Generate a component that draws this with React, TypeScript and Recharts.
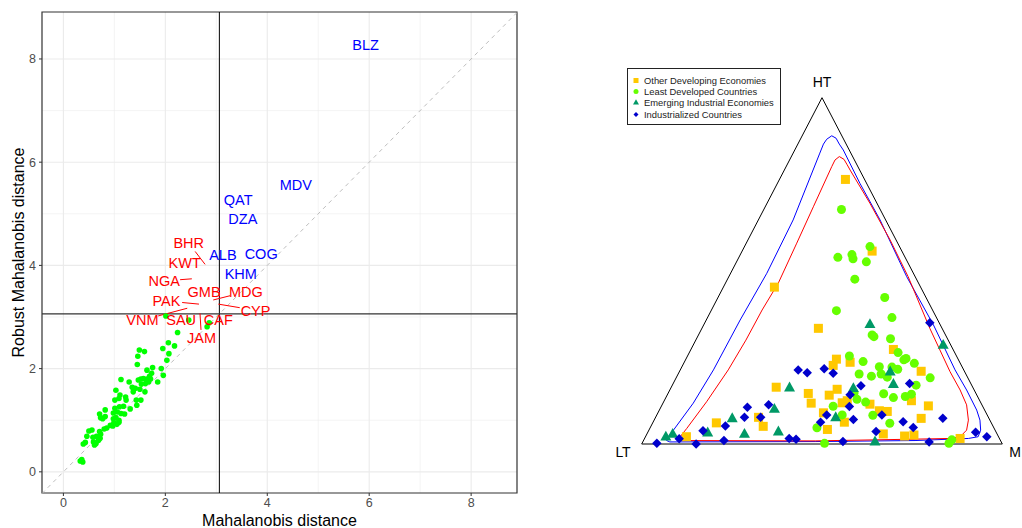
import React from "react";
import {
  ScatterChart,
  Scatter,
  XAxis,
  YAxis,
  CartesianGrid,
  ReferenceLine,
  ReferenceArea,
  Label,
} from "recharts";

const FONT = '"Liberation Sans", Arial, Helvetica, sans-serif';

// ---------- left panel: classical vs robust Mahalanobis distance ----------
const majorTicks = [0, 2, 4, 6, 8];
const minorTicks = [1, 3, 5, 7];
const X_DOMAIN: [number, number] = [-0.42, 8.9];
const Y_DOMAIN: [number, number] = [-0.41, 8.91];
const cutoff = 3.06;

const regular: [number, number][] = [
  [2.01, 3.02], [2.46, 2.94], [2.86, 2.89], [2.82, 2.81], [2.24, 2.7], [2.06, 2.5],
  [2.18, 2.44], [1.95, 2.39], [1.49, 2.36], [1.59, 2.33], [2.07, 2.29], [1.46, 2.24],
  [2.03, 2.16], [1.45, 2.08], [1.92, 2.0], [1.75, 2.02], [1.64, 1.97], [1.96, 1.87],
  [1.73, 1.91], [1.69, 1.85], [1.64, 1.8], [1.57, 1.81], [1.52, 1.8], [1.47, 1.78],
  [1.13, 1.79], [1.29, 1.74], [1.85, 1.74], [1.71, 1.8], [1.67, 1.74], [1.61, 1.71],
  [1.53, 1.7], [1.35, 1.64], [1.41, 1.62], [1.5, 1.6], [1.6, 1.55], [1.03, 1.58],
  [1.37, 1.55], [1.11, 1.49], [1.09, 1.42], [1.01, 1.39], [1.22, 1.45], [1.23, 1.39],
  [1.43, 1.39], [1.52, 1.39], [1.44, 1.29], [1.31, 1.22], [1.01, 1.23], [1.1, 1.26],
  [1.18, 1.27], [0.82, 1.2], [0.98, 1.14], [1.06, 1.16], [1.13, 1.13], [1.2, 1.12],
  [0.71, 1.12], [0.73, 1.05], [0.77, 1.03], [0.82, 1.07], [0.98, 1.03], [1.03, 1.05],
  [1.09, 1.0], [0.99, 0.95], [1.05, 0.92], [1.09, 0.96], [0.92, 0.9], [0.97, 0.89],
  [0.8, 0.83], [0.85, 0.85], [0.71, 0.78], [0.73, 0.73], [0.65, 0.69], [0.69, 0.61],
  [0.72, 0.65], [0.58, 0.67], [0.59, 0.58], [0.61, 0.52], [0.64, 0.55], [0.5, 0.79],
  [0.56, 0.81], [0.46, 0.69], [0.39, 0.54], [0.43, 0.57], [0.33, 0.21], [0.38, 0.19],
  [0.36, 0.24],
];

// outlying in both distances (label sits on the point)
const bothOutliers = [
  { name: "BLZ", x: 5.93, y: 8.27 },
  { name: "MDV", x: 4.56, y: 5.56 },
  { name: "QAT", x: 3.43, y: 5.28 },
  { name: "DZA", x: 3.52, y: 4.91 },
  { name: "ALB", x: 3.13, y: 4.2 },
  { name: "COG", x: 3.88, y: 4.23 },
  { name: "KHM", x: 3.48, y: 3.83 },
];

// outlying only in the robust distance (repelled labels: lx/ly label, x/y point)
const robustOutliers = [
  { name: "BHR", lx: 2.46, ly: 4.43, x: 2.78, y: 4.02 },
  { name: "KWT", lx: 2.38, ly: 4.06, x: 2.45, y: 4.04 },
  { name: "NGA", lx: 1.98, ly: 3.7, x: 2.52, y: 3.74 },
  { name: "GMB", lx: 2.76, ly: 3.49, x: 2.8, y: 3.45 },
  { name: "MDG", lx: 3.58, ly: 3.49, x: 2.94, y: 3.33 },
  { name: "PAK", lx: 2.02, ly: 3.31, x: 2.66, y: 3.25 },
  { name: "CYP", lx: 3.77, ly: 3.13, x: 3.04, y: 3.25 },
  { name: "VNM", lx: 1.55, ly: 2.94, x: 2.43, y: 3.17 },
  { name: "SAU", lx: 2.31, ly: 2.94, x: 2.35, y: 2.97 },
  { name: "CAF", lx: 3.04, ly: 2.94, x: 3.0, y: 2.97 },
  { name: "JAM", lx: 2.71, ly: 2.59, x: 2.68, y: 3.07 },
];

// segment from the edge of the label box to the point
function segStart(d: { name: string; lx: number; ly: number; x: number; y: number }) {
  const hw = d.name.length * 0.09 + 0.04;
  const hh = 0.16;
  const dx = d.x - d.lx;
  const dy = d.y - d.ly;
  const t = Math.min(dx ? hw / Math.abs(dx) : Infinity, dy ? hh / Math.abs(dy) : Infinity);
  if (t >= 1) return null;
  return { x: d.lx + dx * t, y: d.ly + dy * t };
}

const textShape = (color: string) => (p: any) => (
  <text x={p.cx} y={p.cy} dy="0.36em" textAnchor="middle" fill={color} fontSize={14.5}>
    {p.payload.name}
  </text>
);

// ---------- right panel: ternary diagram (LT, HT, M) ----------
const triangle = [
  { x: 0, y: 0 },
  { x: 50, y: 100 },
  { x: 100, y: 0 },
  { x: 0, y: 0 },
];
const vertexLabels = [
  { name: "HT", x: 50, y: 100 },
  { name: "LT", x: 0, y: 0 },
  { name: "M", x: 100, y: 0 },
];

const otherDeveloping: [number, number][] = [
  [56.5, 76.4], [63.9, 55.7], [36.8, 45.3], [49.0, 33.4], [69.8, 27.3], [54.0, 24.5],
  [53.1, 22.7], [57.8, 23.6], [77.5, 21.0], [37.3, 16.4], [46.2, 14.6], [52.0, 14.1],
  [54.2, 15.8], [47.0, 11.8], [55.6, 11.9], [57.0, 12.5], [63.3, 11.5], [74.8, 12.5],
  [79.5, 11.0], [50.4, 9.0], [65.9, 9.6], [68.1, 9.4], [77.5, 7.4], [56.2, 6.3],
  [20.7, 6.1], [32.4, 7.7], [33.7, 5.1], [51.5, 4.2], [67.0, 2.9], [72.9, 2.3],
  [75.5, 2.6], [12.4, 2.1], [88.3, 1.6],
];
const leastDeveloped: [number, number][] = [
  [55.4, 67.7], [63.3, 57.0], [54.4, 53.9], [58.3, 54.7], [58.6, 53.5], [62.3, 52.6],
  [59.1, 47.6], [67.4, 42.3], [54.0, 38.5], [69.4, 36.5], [63.9, 31.5], [64.4, 31.0],
  [69.0, 30.4], [71.1, 26.4], [57.6, 25.4], [61.4, 23.8], [72.7, 24.3], [73.3, 24.7],
  [75.6, 23.3], [65.9, 22.3], [69.4, 22.2], [71.0, 21.6], [60.3, 20.2], [63.7, 19.6],
  [66.4, 20.2], [68.1, 19.3], [80.0, 19.1], [76.1, 17.0], [67.1, 14.5], [69.8, 13.4],
  [73.1, 13.7], [74.8, 14.4], [59.7, 12.9], [62.1, 12.1], [53.1, 10.9], [55.6, 8.4],
  [64.1, 8.3], [68.8, 6.0], [48.6, 4.7], [50.7, 0.2], [85.2, 0.2], [86.0, 1.2],
  [58.9, 14.8],
];
const emergingIndustrial: [number, number][] = [
  [63.3, 34.6], [83.6, 28.6], [68.9, 20.9], [69.8, 17.3], [41.0, 16.3], [58.7, 16.1],
  [36.8, 10.1], [53.8, 7.7], [25.1, 7.4], [18.3, 3.3], [28.5, 2.9], [37.9, 3.6],
  [6.7, 2.1], [8.6, 2.9], [64.7, 0.7],
];
const industrialized: [number, number][] = [
  [79.9, 35.0], [43.4, 21.4], [45.9, 20.6], [50.6, 21.7], [53.1, 20.4], [60.8, 16.8],
  [74.3, 17.5], [57.8, 14.2], [57.6, 10.8], [29.3, 10.6], [35.2, 11.3], [28.5, 7.7],
  [33.0, 7.7], [51.3, 8.4], [49.6, 6.3], [58.7, 7.1], [66.6, 8.4], [72.5, 6.4],
  [75.3, 4.8], [83.5, 7.4], [23.2, 5.2], [17.0, 3.8], [10.4, 1.5], [4.2, 0.2],
  [15.1, 0.0], [22.8, 1.0], [40.9, 1.6], [42.8, 1.4], [55.8, 0.7], [65.0, 3.6],
  [79.7, 0.6], [92.6, 3.4], [95.7, 2.1],
];

// tolerance regions
const outerRegion: [number, number][] = [
  [7.8, 0.6], [6.9, 1.0], [7.1, 1.7], [8.8, 4.0], [14.3, 11.8], [19.9, 21.4],
  [27.3, 35.8], [34.7, 49.3], [42.0, 64.7], [49.4, 84.0], [50.4, 86.6], [51.3, 88.0],
  [52.7, 89.0], [53.9, 88.3], [54.8, 86.6], [55.9, 84.9], [60.5, 75.3], [66.1, 64.7],
  [73.5, 48.3], [80.9, 34.4], [86.9, 21.4], [90.1, 15.6], [92.9, 9.8], [93.8, 6.9],
  [94.0, 4.0], [93.3, 2.1], [90.6, 1.6], [75.8, 1.0], [48.1, 0.7], [7.8, 0.6],
];
const innerRegion: [number, number][] = [
  [11.1, 1.0], [10.4, 1.3], [10.6, 2.0], [12.5, 4.5], [18.0, 12.2], [24.0, 21.4],
  [28.9, 30.0], [33.4, 38.7], [37.9, 46.5], [43.0, 58.0], [47.6, 68.5], [52.7, 80.1],
  [53.6, 82.0], [54.8, 83.0], [56.1, 82.2], [57.0, 80.6], [57.8, 79.1], [63.3, 69.5],
  [68.9, 58.9], [73.9, 48.3], [79.9, 33.4], [85.5, 20.9], [88.3, 15.6], [90.1, 11.3],
  [90.6, 6.9], [90.1, 4.0], [88.3, 2.1], [85.5, 1.6], [75.8, 1.4], [48.1, 0.9],
  [11.1, 1.0],
];

const toXY = (arr: [number, number][]) => arr.map(([x, y]) => ({ x, y }));

function marker(kind: string, cx: number, cy: number, s: number, fill: string) {
  switch (kind) {
    case "square":
      return <rect x={cx - s / 2} y={cy - s / 2} width={s} height={s} fill={fill} />;
    case "circle":
      return <circle cx={cx} cy={cy} r={s / 2} fill={fill} />;
    case "triangle":
      return (
        <path
          d={`M${cx},${cy - s * 0.55}L${cx + s / 2},${cy + s * 0.35}L${cx - s / 2},${cy + s * 0.35}Z`}
          fill={fill}
        />
      );
    default:
      return (
        <path
          d={`M${cx},${cy - s / 2}L${cx + s / 2},${cy}L${cx},${cy + s / 2}L${cx - s / 2},${cy}Z`}
          fill={fill}
        />
      );
  }
}

const groups = [
  { name: "Other Developing Economies", kind: "square", color: "#ffc800", size: 9, data: otherDeveloping },
  { name: "Least Developed Countries", kind: "circle", color: "#66ff00", size: 9, data: leastDeveloped },
  { name: "Emerging Industrial Economies", kind: "triangle", color: "#009966", size: 11, data: emergingIndustrial },
  { name: "Industrialized Countries", kind: "diamond", color: "#0000cc", size: 9.5, data: industrialized },
];

const vertexOffset: Record<string, { dx: number; dy: number; anchor: string }> = {
  HT: { dx: 0, dy: -16, anchor: "middle" },
  LT: { dx: -11, dy: 8, anchor: "end" },
  M: { dx: 7, dy: 8, anchor: "start" },
};

const noDot = () => <g />;

export default function App() {
  return (
    <div
      style={{
        position: "absolute",
        left: 0,
        top: 0,
        width: 1022,
        height: 528,
        overflow: "hidden",
        background: "#fff",
        fontFamily: FONT,
      }}
    >
      <div style={{ position: "absolute", left: 0, top: 0 }}>
        <ScatterChart width={530} height={528} margin={{ top: 12, right: 13, bottom: 0, left: 0 }}>
          <CartesianGrid
            stroke="#ededed"
            strokeWidth={0.6}
            horizontalValues={minorTicks}
            verticalValues={minorTicks}
          />
          <CartesianGrid
            stroke="#ebebeb"
            strokeWidth={1.1}
            horizontalValues={majorTicks}
            verticalValues={majorTicks}
          />
          <XAxis
            type="number"
            dataKey="x"
            domain={X_DOMAIN}
            ticks={majorTicks}
            allowDataOverflow
            height={35}
            tickSize={3}
            tickMargin={2}
            axisLine={false}
            tickLine={{ stroke: "#333" }}
            tick={{ fill: "#4d4d4d", fontSize: 12.5 }}
          >
            <Label value="Mahalanobis distance" position="center" dy={10} fill="#000" fontSize={16} />
          </XAxis>
          <YAxis
            type="number"
            dataKey="y"
            domain={Y_DOMAIN}
            ticks={majorTicks}
            allowDataOverflow
            width={42}
            tickSize={3}
            tickMargin={3}
            axisLine={false}
            tickLine={{ stroke: "#333" }}
            tick={{ fill: "#4d4d4d", fontSize: 12.5 }}
          >
            <Label
              value="Robust Mahalanobis distance"
              position="center"
              angle={-90}
              dx={-3}
              fill="#000"
              fontSize={16}
            />
          </YAxis>
          <ReferenceLine
            segment={[
              { x: X_DOMAIN[0], y: X_DOMAIN[0] },
              { x: X_DOMAIN[1], y: X_DOMAIN[1] },
            ]}
            stroke="#bebebe"
            strokeDasharray="4 4"
            ifOverflow="visible"
          />
          <Scatter
            data={toXY(regular)}
            isAnimationActive={false}
            shape={(p: any) => <circle cx={p.cx} cy={p.cy} r={2.8} fill="#00ff00" />}
          />
          <ReferenceLine x={cutoff} stroke="#000" strokeWidth={1} />
          <ReferenceLine y={cutoff} stroke="#333" strokeWidth={1.2} />
          {robustOutliers.map((d) => {
            const s = segStart(d);
            return s ? (
              <ReferenceLine
                key={"seg" + d.name}
                segment={[s, { x: d.x, y: d.y }]}
                stroke="#ff0000"
                strokeWidth={1}
                ifOverflow="visible"
              />
            ) : null;
          })}
          <Scatter
            data={robustOutliers.map((d) => ({ name: d.name, x: d.lx, y: d.ly }))}
            isAnimationActive={false}
            shape={textShape("#ff0000")}
          />
          <Scatter data={bothOutliers} isAnimationActive={false} shape={textShape("#0000ff")} />
          <ReferenceArea
            x1={X_DOMAIN[0]}
            x2={X_DOMAIN[1]}
            y1={Y_DOMAIN[0]}
            y2={Y_DOMAIN[1]}
            fill="none"
            fillOpacity={0}
            stroke="#333"
            strokeWidth={1.2}
            ifOverflow="visible"
          />
        </ScatterChart>
      </div>

      <div style={{ position: "absolute", left: 600, top: 60 }}>
        <ScatterChart
          width={422}
          height={420}
          margin={{ top: 37.7, right: 19.7, bottom: 36, left: 41.7 }}
        >
          <XAxis type="number" dataKey="x" domain={[0, 100]} hide />
          <YAxis type="number" dataKey="y" domain={[0, 100]} hide />
          <Scatter
            data={triangle}
            isAnimationActive={false}
            line={{ stroke: "#000", strokeWidth: 1, fill: "none" }}
            shape={noDot}
          />
          <Scatter
            data={toXY(outerRegion)}
            isAnimationActive={false}
            line={{ stroke: "#0000ff", strokeWidth: 1, fill: "none" }}
            shape={noDot}
          />
          <Scatter
            data={toXY(innerRegion)}
            isAnimationActive={false}
            line={{ stroke: "#ff0000", strokeWidth: 1, fill: "none" }}
            shape={noDot}
          />
          {groups.map((g) => (
            <Scatter
              key={g.name}
              name={g.name}
              data={toXY(g.data)}
              isAnimationActive={false}
              shape={(p: any) => marker(g.kind, p.cx, p.cy, g.size, g.color)}
            />
          ))}
          <Scatter
            data={vertexLabels}
            isAnimationActive={false}
            shape={(p: any) => {
              const o = vertexOffset[p.payload.name];
              return (
                <text
                  x={p.cx + o.dx}
                  y={p.cy + o.dy}
                  dy="0.36em"
                  textAnchor={o.anchor}
                  fill="#000"
                  fontSize={14}
                >
                  {p.payload.name}
                </text>
              );
            }}
          />
        </ScatterChart>
      </div>

      <div
        style={{
          position: "absolute",
          left: 627,
          top: 68,
          width: 154,
          height: 57,
          boxSizing: "border-box",
          border: "1px solid #222",
          background: "#fff",
          paddingTop: 6,
          fontSize: 9.4,
          color: "#222",
        }}
      >
        {groups.map((g) => (
          <div key={g.name} style={{ display: "flex", alignItems: "center", height: 11.2 }}>
            <svg width={16} height={11} style={{ flex: "none" }}>
              {marker(g.kind, 8, 5.5, g.kind === "triangle" ? 6 : 5, g.color)}
            </svg>
            <span style={{ whiteSpace: "nowrap", lineHeight: "11px" }}>{g.name}</span>
          </div>
        ))}
      </div>
    </div>
  );
}
